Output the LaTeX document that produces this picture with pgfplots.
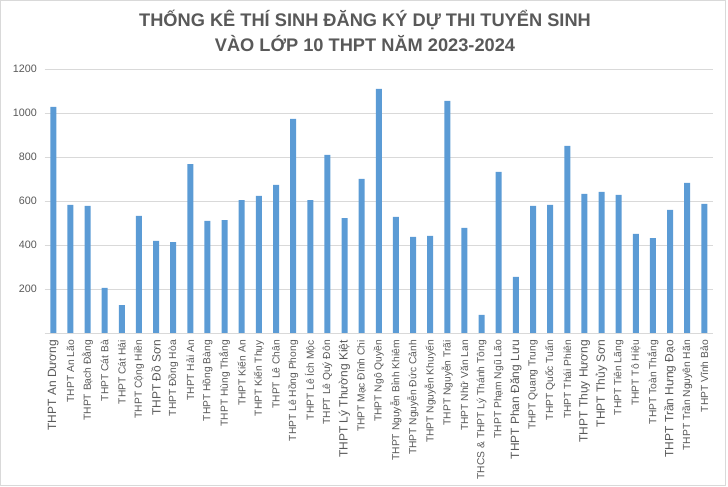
\documentclass[border=0pt]{standalone}
\usepackage{fontspec}
\setmainfont{Liberation Sans}
\usepackage{pgfplots}
\pgfplotsset{compat=1.18}
\definecolor{barblue}{HTML}{5B9BD5}
\definecolor{txtgray}{HTML}{595959}
\definecolor{gridgray}{HTML}{D9D9D9}
\newcommand{\bigfnt}{\fontsize{12}{14}\selectfont}
\begin{document}
\begin{tikzpicture}[x=1bp,y=1bp]
\path[use as bounding box] (0,0) rectangle (728,487);
\draw[gridgray] (0.5,1.5) rectangle (725.5,486.5);
\node[align=center, text=txtgray, font=\fontsize{18.3}{25}\selectfont\bfseries] at (365,456.5)
  {THỐNG KÊ THÍ SINH ĐĂNG KÝ DỰ THI TUYỂN SINH\\VÀO LỚP 10 THPT NĂM 2023-2024};
\begin{axis}[
  at={(44.7bp,154bp)}, anchor=south west,
  scale only axis, width=668.2bp, height=263.7bp,
  xmin=-0.5, xmax=38.5, ymin=0, ymax=1200,
  axis x line*=bottom, axis y line*=left,
  x axis line style={draw=gridgray},
  y axis line style={draw=none},
  ymajorgrids, grid style={gridgray},
  major tick length=0pt,
  ytick={200,400,600,800,1000,1200},
  xtick={0,...,38},
  /pgf/number format/assume math mode=true,
  /pgf/number format/1000 sep={},
  yticklabel style={font=\fontsize{10.8}{12}\selectfont, text=txtgray, anchor=east, inner sep=0pt, xshift=-7.7bp},
  xticklabel style={font=\fontsize{10.3}{12}\selectfont, text=txtgray, yshift=-7bp, rotate=90, anchor=east, inner sep=0pt},
  xticklabels={
    {\bigfnt THPT An Dương},THPT An Lão,THPT Bạch Đằng,THPT Cát Bà,THPT Cát Hải,THPT Cộng Hiền,{\bigfnt THPT Đồ Sơn},THPT Đồng Hòa,THPT Hải An,THPT Hồng Bàng,
    THPT Hùng Thắng,THPT Kiến An,THPT Kiến Thụy,THPT Lê Chân,THPT Lê Hồng Phong,THPT Lê Ích Mộc,THPT Lê Quý Đôn,{\bigfnt THPT Lý Thường Kiệt},THPT Mạc Đĩnh Chi,THPT Ngô Quyền,
    THPT Nguyễn Bỉnh Khiêm,THPT Nguyễn Đức Cảnh,THPT Nguyễn Khuyến,THPT Nguyễn Trãi,THPT Nhữ Văn Lan,THCS \& THPT Lý Thánh Tông,THPT Phạm Ngũ Lão,{\bigfnt THPT Phan Đăng Lưu},THPT Quang Trung,THPT Quốc Tuấn,
    THPT Thái Phiên,{\bigfnt THPT Thụy Hương},{\bigfnt THPT Thủy Sơn},THPT Tiên Lãng,THPT Tô Hiệu,THPT Toàn Thắng,{\bigfnt THPT Trần Hưng Đạo},THPT Trần Nguyên Hãn,THPT Vĩnh Bảo},
]
\addplot[ybar, bar width=6bp, fill=barblue, draw=none] coordinates {
(0,1029) (1,583) (2,578) (3,205) (4,127) (5,533) (6,419) (7,414) (8,769) (9,510)
(10,514) (11,605) (12,624) (13,674) (14,974) (15,605) (16,810) (17,523) (18,701) (19,1111)
(20,528) (21,437) (22,442) (23,1056) (24,478) (25,82) (26,733) (27,255) (28,578) (29,583)
(30,851) (31,633) (32,642) (33,628) (34,451) (35,432) (36,560) (37,683) (38,587)};
\end{axis}
\end{tikzpicture}
\end{document}
